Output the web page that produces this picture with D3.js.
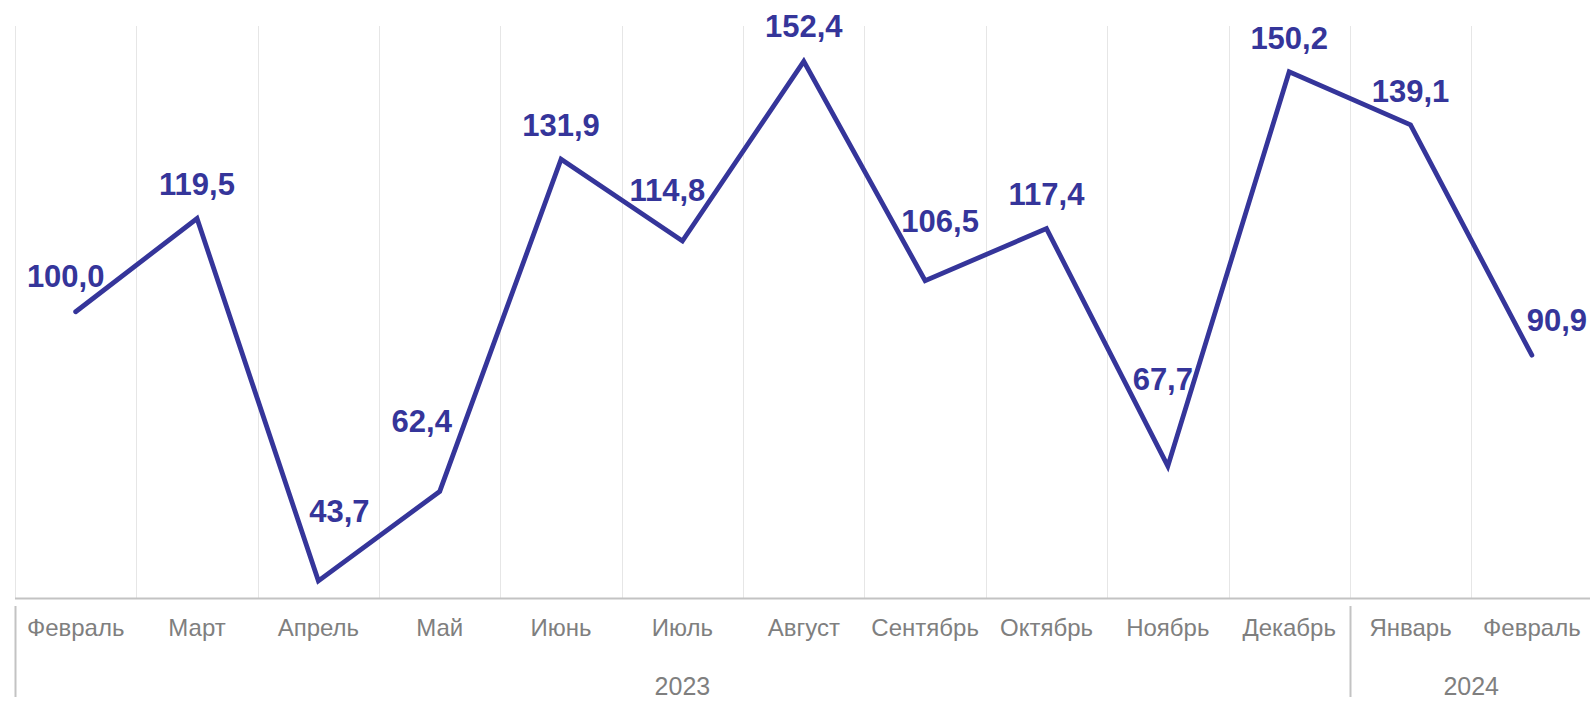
<!DOCTYPE html>
<html>
<head>
<meta charset="utf-8">
<script src="https://cdn.jsdelivr.net/npm/d3@7/dist/d3.min.js"></script>
<style>
  html, body { margin: 0; padding: 0; background: #ffffff; }
  svg { display: block; font-family: "Liberation Sans", Arial, sans-serif; }
</style>
</head>
<body>
<svg id="chart" width="1590" height="701"></svg>
<script>
// ---- data ----
const months = ["Февраль", "Март", "Апрель", "Май", "Июнь", "Июль", "Август",
                "Сентябрь", "Октябрь", "Ноябрь", "Декабрь", "Январь", "Февраль"];
const years = ["2023", "2024"];
const yearOfMonth = [0, 0, 0, 0, 0, 0, 0, 0, 0, 0, 0, 1, 1];
const values = [100.0, 119.5, 43.7, 62.4, 131.9, 114.8, 152.4, 106.5, 117.4, 67.7, 150.2, 139.1, 90.9];

// label nudges (dx, dy) relative to the default "above" placement
const labelNudgeX = [-10, 0, 21, -18, 0, -15, 0, 15, 0, -5, 0, 0, 25];
const labelNudgeY = [-1, 0, -35, -35, 1, -16, 0, -25, 0, -52, 1, 1, 0];

// ---- layout ----
const W = 1590, H = 701;
const padL = 15, bandW = 121.35;
const padR = padL + bandW * months.length;
const padT = 25, axisY = 598.5;
const lineColor = "#35359a";
const grey = "#7f7f7f";

const svg = d3.select("#chart");
svg.append("rect").attr("width", W).attr("height", H).attr("fill", "#fff");

const idx = months.map((m, i) => i);
const x = d3.scaleBand().domain(idx).range([padL, padR]).padding(0);
const y = d3.scaleLinear().domain([40, 160]).range([axisY, padT]);

// vertical gridlines at band boundaries
svg.append("g").selectAll("line").data(idx).join("line")
  .attr("x1", d => Math.round(x(d)) + 0.5).attr("x2", d => Math.round(x(d)) + 0.5)
  .attr("y1", y(160) + 1).attr("y2", axisY)
  .attr("stroke", "#e6e6e6").attr("stroke-width", 1);

// axis via d3.axisBottom (ticks hidden, domain styled)
const axis = d3.axisBottom(x).tickSize(0).tickFormat(i => months[i]);
const ax = svg.append("g").attr("transform", `translate(0,${axisY})`).call(axis);
ax.select(".domain").attr("stroke", "#c3c3c3").attr("stroke-width", 2)
  .attr("d", `M${padL},0H${W}`);
ax.selectAll(".tick text")
  .attr("y", 37.5).attr("dy", 0)
  .attr("fill", grey)
  .style("font-size", "24px")
  .style("font-family", '"Liberation Sans", Arial, sans-serif');

// year groups
const groups = years.map((yr, g) => {
  const members = idx.filter(i => yearOfMonth[i] === g);
  return { yr, start: x(members[0]), end: x(members[members.length - 1]) + x.bandwidth() };
});
svg.append("g").selectAll("line").data(groups).join("line")
  .attr("x1", d => Math.round(d.start) + 0.5).attr("x2", d => Math.round(d.start) + 0.5)
  .attr("y1", 606).attr("y2", 697)
  .attr("stroke", "#c3c3c3").attr("stroke-width", 2);
svg.append("g").selectAll("text").data(groups).join("text")
  .attr("x", d => (d.start + d.end) / 2)
  .attr("y", 695)
  .attr("text-anchor", "middle")
  .attr("fill", grey)
  .style("font-size", "25px")
  .text(d => d.yr);

// line
const line = d3.line()
  .x((d, i) => x(i) + x.bandwidth() / 2)
  .y(d => y(d));
svg.append("path").datum(values)
  .attr("d", line)
  .attr("fill", "none")
  .attr("stroke", lineColor)
  .attr("stroke-width", 4.8)
  .attr("stroke-linejoin", "miter")
  .attr("stroke-linecap", "round");

// data labels
const fmt = v => d3.format(".1f")(v).replace(".", ",");
svg.append("g").selectAll("text").data(values).join("text")
  .attr("x", (d, i) => x(i) + x.bandwidth() / 2 + labelNudgeX[i])
  .attr("y", (d, i) => y(d) - 35 + labelNudgeY[i] + 11)
  .attr("text-anchor", "middle")
  .attr("fill", lineColor)
  .style("font-size", "31px")
  .style("font-weight", "bold")
  .text(d => fmt(d));
</script>
</body>
</html>
